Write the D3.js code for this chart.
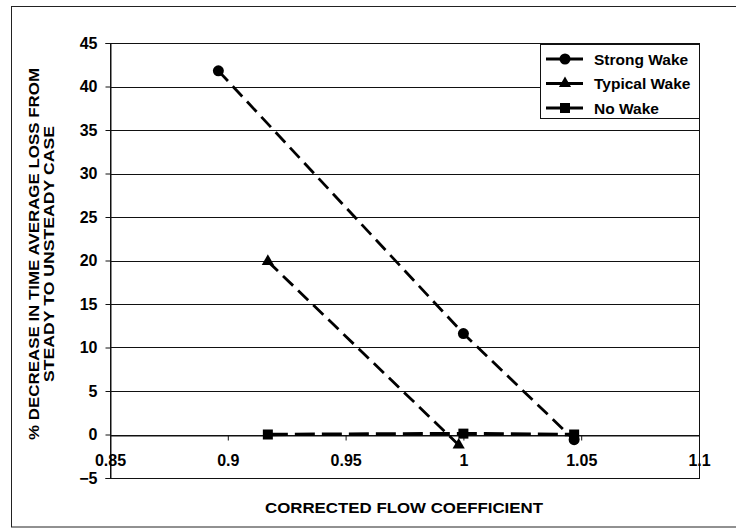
<!DOCTYPE html>
<html><head><meta charset="utf-8">
<script src="https://cdn.jsdelivr.net/npm/d3@7"></script>
<style>body{margin:0;background:#fff}svg{display:block}text{font-family:"Liberation Sans",Arial,sans-serif}</style>
</head><body>
<svg id="c" width="736" height="529"></svg>
<script>
const xTicks = [0.85, 0.9, 0.95, 1, 1.05, 1.1];
const xTickLabels = ["0.85", "0.9", "0.95", "1", "1.05", "1.1"];
const yTicks = [-5, 0, 5, 10, 15, 20, 25, 30, 35, 40, 45];
const seriesNames = ["Strong Wake", "Typical Wake", "No Wake"];
const markers = ["circle", "triangle", "square"];
const strongX = [0.896, 1.0, 1.047];
const strongY = [41.8, 11.6, -0.6];
const typicalX = [0.917, 0.998];
const typicalY = [19.9, -1.2];
const noWakeX = [0.917, 1.0, 1.047];
const noWakeY = [0.0, 0.1, 0.0];
const seriesX = [strongX, typicalX, noWakeX];
const seriesY = [strongY, typicalY, noWakeY];

const svg = d3.select("#c");
const L = 110, R = 699, T = 43, B = 478;
const x = d3.scaleLinear().domain([0.85, 1.1]).range([L, R]);
const y = d3.scaleLinear().domain([-5, 45]).range([B, T]);
const FONT = "Liberation Sans, Arial, sans-serif";

// outer chart border
svg.append("rect").attr("x", 11.5).attr("y", 6.5).attr("width", 740).attr("height", 520.5)
  .attr("fill", "none").attr("stroke", "#222").attr("stroke-width", 1);

// gridlines
svg.append("g").selectAll("line").data(yTicks).join("line")
  .attr("x1", L).attr("x2", R).attr("y1", d => Math.round(y(d)) + 0.5).attr("y2", d => Math.round(y(d)) + 0.5)
  .attr("stroke", "#111").attr("stroke-width", 1);

// plot border
svg.append("rect").attr("x", L + 0.5).attr("y", T + 0.5).attr("width", R - L).attr("height", B - T)
  .attr("fill", "none").attr("stroke", "#111").attr("stroke-width", 1);

// y axis
const yAxis = d3.axisLeft(y).tickValues(yTicks).tickSize(5).tickPadding(8).tickFormat(d3.format("d"));
const gy = svg.append("g").attr("transform", `translate(${L + 0.5},0)`).call(yAxis);
gy.select(".domain").attr("stroke", "#111");
gy.selectAll(".tick line").attr("stroke", "#111");
gy.selectAll("text").attr("font-size", 16).attr("font-weight", "bold").attr("fill", "#000").attr("font-family", FONT);

// x axis at y=0
const xAxis = d3.axisBottom(x).tickValues(xTicks).tickSize(5).tickPadding(14)
  .tickFormat((d, i) => xTickLabels[i]);
const gx = svg.append("g").attr("transform", `translate(0,${Math.round(y(0)) + 0.5})`).call(xAxis);
gx.select(".domain").attr("stroke", "#111");
gx.selectAll(".tick line").attr("stroke", "#111");
gx.selectAll("text").attr("font-size", 16).attr("font-weight", "bold").attr("fill", "#000").attr("font-family", FONT);

// series lines
const line = d3.line().x(d => x(d[0])).y(d => y(d[1]));
seriesX.forEach((xs, i) => {
  const pts = xs.map((v, j) => [v, seriesY[i][j]]);
  svg.append("path").datum(pts).attr("d", line)
    .attr("fill", "none").attr("stroke", "#000").attr("stroke-width", i === 2 ? 3.4 : 2.8)
    .attr("stroke-dasharray", i === 2 ? "20,7" : "14,7");
});

function drawMarker(g, type, cx, cy) {
  if (type === "circle") g.append("circle").attr("cx", cx).attr("cy", cy).attr("r", 5.5).attr("fill", "#000");
  else if (type === "triangle") g.append("path").attr("d", d3.symbol(d3.symbolTriangle, 64)()).attr("transform", `translate(${cx},${cy})`).attr("fill", "#000");
  else g.append("rect").attr("x", cx - 5).attr("y", cy - 5).attr("width", 10).attr("height", 10).attr("fill", "#000");
}
seriesX.forEach((xs, i) => {
  const g = svg.append("g");
  xs.forEach((v, j) => drawMarker(g, markers[i], x(v), y(seriesY[i][j])));
});

// legend
const lg = svg.append("g");
lg.append("rect").attr("x", 540.5).attr("y", 44.5).attr("width", 159).attr("height", 74)
  .attr("fill", "#fff").attr("stroke", "#111").attr("stroke-width", 1);
seriesNames.forEach((name, i) => {
  const ly = 59 + i * 24.5;
  lg.append("line").attr("x1", 546).attr("x2", 583).attr("y1", ly).attr("y2", ly)
    .attr("stroke", "#000").attr("stroke-width", 2.8);
  drawMarker(lg, markers[i], 565, ly);
  lg.append("text").attr("x", 594).attr("y", ly + 5.5).attr("font-size", 15.5).attr("font-weight", "bold").text(name);
});

// axis titles
svg.append("text").attr("x", 404).attr("y", 513).attr("text-anchor", "middle")
  .attr("font-size", 15).attr("font-weight", "bold")
  .attr("textLength", 278).attr("lengthAdjust", "spacingAndGlyphs").text("CORRECTED FLOW COEFFICIENT");
const yg = svg.append("g").attr("transform", "translate(0,254) rotate(-90)");
yg.append("text").attr("x", 0).attr("y", 39).attr("text-anchor", "middle")
  .attr("font-size", 15).attr("font-weight", "bold")
  .attr("textLength", 372).attr("lengthAdjust", "spacingAndGlyphs").text("% DECREASE IN TIME AVERAGE LOSS FROM");
yg.append("text").attr("x", 0).attr("y", 54).attr("text-anchor", "middle")
  .attr("font-size", 15).attr("font-weight", "bold")
  .attr("textLength", 256).attr("lengthAdjust", "spacingAndGlyphs").text("STEADY TO UNSTEADY CASE");
</script>
</body></html>
